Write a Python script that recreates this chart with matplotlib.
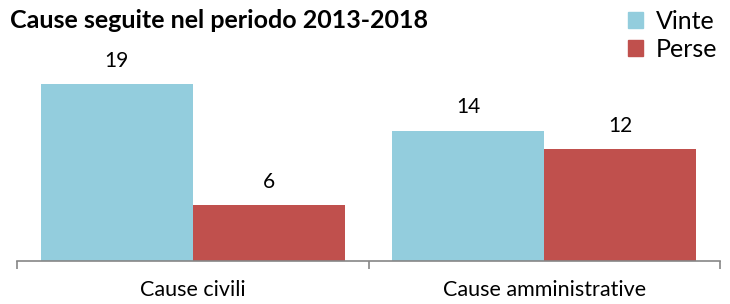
import numpy as np
import matplotlib
matplotlib.use("Agg")
from matplotlib import pyplot
from matplotlib.patches import Patch

categories = ["Cause civili", "Cause amministrative"]
vinte = [19, 14]
perse = [6, 12]
series_names = ["Vinte", "Perse"]

blue = "#93CDDD"
red = "#C0504D"

pyplot.rcParams["font.family"] = ["Lato", "DejaVu Sans"]

fig = pyplot.figure(figsize=(7.3, 3.04), dpi=100)
ax = fig.add_axes([17 / 730, 43 / 304, 703 / 730, 186 / 304])

x = np.arange(len(categories))
width = 0.433
bars1 = ax.bar(x - width / 2, vinte, width, color=blue)
bars2 = ax.bar(x + width / 2, perse, width, color=red)

for bars in (bars1, bars2):
    for b in bars:
        ax.annotate(str(int(b.get_height())),
                    (b.get_x() + b.get_width() / 2, b.get_height()),
                    xytext=(0, 17), textcoords="offset points",
                    ha="center", va="center", fontsize=15, color="black")

ax.set_xlim(-0.5, 1.5)
ax.set_ylim(0, 20)
for s in ["top", "right", "left"]:
    ax.spines[s].set_visible(False)
ax.spines["bottom"].set_color("#868686")
ax.spines["bottom"].set_linewidth(1.2)
ax.set_yticks([])
ax.set_xticks([-0.5, 0.5, 1.5])
ax.set_xticklabels([])
ax.tick_params(axis="x", length=6, color="#868686", width=1.2)
for xi, lab in zip(x, categories):
    ax.text(xi, -3.1, lab, ha="center", va="center", fontsize=15.5,
            transform=ax.transData)

fig.text(10 / 730, 1 - 21 / 304, "Cause seguite nel periodo 2013-2018",
         fontsize=18, fontweight="bold", ha="left", va="center")

handles = [Patch(color=blue), Patch(color=red)]
fig.legend(handles, series_names, loc="upper right",
           bbox_to_anchor=(1 + 2 / 730, 1.018), frameon=False,
           fontsize=18, handlelength=0.6, handleheight=0.6,
           handletextpad=0.5, labelspacing=0.2, borderpad=0.1)

fig.savefig("out.png", dpi=100)
